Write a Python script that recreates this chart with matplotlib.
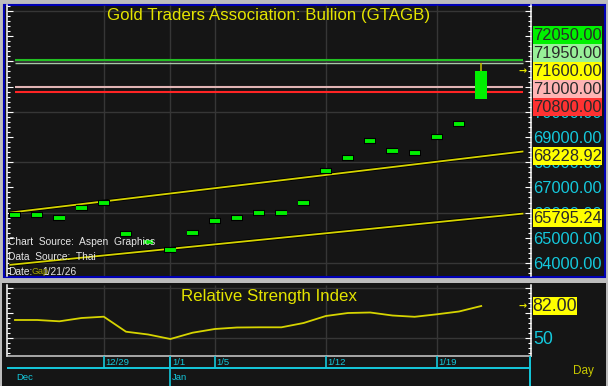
import numpy as np
import matplotlib
matplotlib.use('Agg')
import matplotlib.pyplot as plt
from matplotlib import ticker
from matplotlib.patches import Rectangle

# ---- data ----
dates = ['12/23', '12/24', '12/25', '12/26', '12/29', '12/30', '12/31', '1/1', '1/2', '1/5',
         '1/6', '1/7', '1/8', '1/9', '1/12', '1/13', '1/14', '1/15', '1/16', '1/19', '1/20', '1/21']
opens = [65900, 65900, 65800, 66200, 66400, 65150, 64850, 64500, 65200, 65650,
         65800, 66000, 66000, 66400, 67650, 68150, 68850, 68450, 68350, 69000, 69500, 70500]
closes = [65900, 65900, 65800, 66200, 66400, 65150, 64850, 64500, 65200, 65650,
          65800, 66000, 66000, 66400, 67650, 68150, 68850, 68450, 68350, 69000, 69500, 71600]
highs = [65900, 65900, 65800, 66200, 66400, 65150, 64850, 64500, 65200, 65650,
         65800, 66000, 66000, 66400, 67650, 68150, 68850, 68450, 68350, 69000, 69500, 71950]
rsi = [68, 68, 66.7, 70, 71.3, 56.3, 53.5, 49, 55.3, 59, 60.5, 60.7, 60.7, 65,
       72, 75, 75.5, 72.5, 71.2, 73.7, 76.5, 82]

tick_dates = ['12/29', '1/1', '1/5', '1/12', '1/19']
months = ['Dec', 'Jan']
month_start = ['12/23', '1/1']

# horizontal price levels and their colours
levels = [72050, 71950, 71000, 70800]
level_colors = ['#22c022', '#a8c8a8', '#e0b4b4', '#ff2424']
stack_labels = [72050, 71950, 71600, 71000, 70800]
stack_colors = ['#00f000', '#98f098', '#ffff00', '#ffb4b4', '#ff3232']
last_price = 71600

# channel lines: start / end points (bar index, price)
upper_x = [-0.25, 22.9]
upper_y = [65997, 68428]
lower_x = [-0.25, 22.9]
lower_y = [63925, 65962]
channel_labels = [68228.92, 65795.24]

BG = '#151515'
GRID = '#363636'
YEL = '#d6d400'
CYAN = '#14c8dc'
W, H = 608, 386
FONT = 'Liberation Sans'
LBL = 11.8

plt.rcParams['font.family'] = [FONT, 'DejaVu Sans']

fig = plt.figure(figsize=(W / 100, H / 100), dpi=100, facecolor='#bdbdbd')


def px_axes(x0, y0, x1, y1, z):
    a = fig.add_axes([x0 / W, 1 - y1 / H, (x1 - x0) / W, (y1 - y0) / H])
    a.set_zorder(z)
    return a


bg = px_axes(0, 0, W, H, 0)
bg.set_xlim(0, W)
bg.set_ylim(H, 0)
bg.axis('off')
bg.add_patch(Rectangle((4, 5), 601, 272, facecolor=BG, edgecolor='#0000b4', lw=1.5))
bg.add_patch(Rectangle((2, 283), 604, 103, facecolor=BG, edgecolor='none'))

xl = (-0.36, 23.22)
x = np.arange(len(dates))

# ---------------- price panel ----------------
ax = px_axes(7, 5, 530.5, 276, 1)
ax.set_facecolor('none')
ax.set_xlim(*xl)
ax.set_ylim(63484, 74238)
for s in ['top', 'bottom']:
    ax.spines[s].set_visible(False)
for s in ['left', 'right']:
    ax.spines[s].set_color('white')
    ax.spines[s].set_linewidth(1.1)
ax.yaxis.set_major_locator(ticker.MultipleLocator(1000))
ax.yaxis.set_minor_locator(ticker.MultipleLocator(200))
ax.yaxis.set_major_formatter(ticker.FuncFormatter(lambda v, p: f'{v:.2f}' if v <= 70000 else ''))
ax.tick_params(axis='y', which='both', direction='in', left=True, right=True,
               labelleft=False, labelright=True, color='white', width=0.8, pad=1.8,
               labelcolor=CYAN, labelsize=LBL)
ax.tick_params(axis='y', which='major', length=4.5)
ax.tick_params(axis='y', which='minor', length=2.2)
ax.set_xticks([])

tick_idx = [dates.index(d) for d in tick_dates]
ax.hlines(np.arange(64000, 74001, 2000), xl[0], xl[1], color=GRID, lw=1, zorder=0)
ax.vlines(tick_idx, 63484, 74238, color=GRID, lw=1, zorder=0)

# channel lines
for cx, cy in [(upper_x, upper_y), (lower_x, lower_y)]:
    ax.plot(cx, cy, color='black', lw=2.6, zorder=2, solid_capstyle='butt')
    ax.plot(cx, cy, color=YEL, lw=1.3, zorder=3, solid_capstyle='butt')

# level lines
for v, c in zip(levels, level_colors):
    ax.hlines(v, 0, 22.9, color=c, lw=1.5 if v != 71950 else 1.0, zorder=4)

# candles
w = 0.54
for i in x:
    o, c, h = opens[i], closes[i], highs[i]
    if o == c:
        ax.hlines(c, i - w / 2, i + w / 2, color='black', lw=4.4, zorder=5)
        ax.hlines(c, i - w / 2 + 0.04, i + w / 2 - 0.04, color='#00f000', lw=2.8, zorder=6)
    else:
        ax.vlines(i, max(o, c), h, color='#b8b800', lw=1.2, zorder=5)
        ax.bar(i, abs(c - o), bottom=min(o, c), width=w, color='#00f000',
               edgecolor='none', zorder=6)

ax.text(0.5, 0.962, 'Gold Traders Association: Bullion (GTAGB)', transform=ax.transAxes,
        ha='center', va='center', color='#e4e400', fontsize=12.2)
ax.text(0.984, last_price, '→', transform=ax.get_yaxis_transform(), ha='center', va='center',
        color='#e4e400', fontsize=7, fontfamily='DejaVu Sans', fontweight='bold')

# ---------------- RSI panel ----------------
ax2 = px_axes(7, 285, 530.5, 356, 1)
ax2.set_facecolor('none')
ax2.set_xlim(*xl)
ax2.set_ylim(32, 103)
ax2.spines['top'].set_visible(False)
for s in ['left', 'right', 'bottom']:
    ax2.spines[s].set_color('white')
    ax2.spines[s].set_linewidth(1.1)
ax2.spines['bottom'].set_color('#cfcfcf')
ax2.yaxis.set_major_locator(ticker.MultipleLocator(25))
ax2.yaxis.set_minor_locator(ticker.MultipleLocator(5))
ax2.yaxis.set_major_formatter(ticker.FuncFormatter(lambda v, p: '50' if v == 50 else ''))
ax2.tick_params(axis='y', which='both', direction='in', left=True, right=True,
                labelleft=False, labelright=True, color='white', width=0.8, pad=1.8,
                labelcolor=CYAN, labelsize=LBL + 1)
ax2.tick_params(axis='y', which='major', length=4.5)
ax2.tick_params(axis='y', which='minor', length=2.2)
ax2.set_xticks([])
ax2.hlines([50, 100], xl[0], xl[1], color=GRID, lw=1, zorder=0)
ax2.vlines(tick_idx, 32, 103, color=GRID, lw=1, zorder=0)
ax2.plot(x, rsi, color=YEL, lw=1.3, zorder=3)
ax2.text(0.5, 0.84, 'Relative Strength Index', transform=ax2.transAxes, ha='center',
         va='center', color='#e4e400', fontsize=12.2)
ax2.text(0.984, rsi[-1], '→', transform=ax2.get_yaxis_transform(), ha='center', va='center',
         color='#e4e400', fontsize=7, fontfamily='DejaVu Sans', fontweight='bold')

# ---------------- date strip ----------------
ax3 = px_axes(7, 356, 530.5, 386, 1)
ax3.set_xlim(*xl)
ax3.set_ylim(30, 0)
ax3.axis('off')
ax3.hlines(12, xl[0], xl[1], color=CYAN, lw=1.4)
ax3.vlines(tick_idx, 0, 12, color=CYAN, lw=1.2)
ax3.vlines(xl[1] - 0.01, 0, 30, color=CYAN, lw=1.4, clip_on=False)
for i, d in zip(tick_idx, tick_dates):
    ax3.text(i + 0.08, 6.5, d, color=CYAN, fontsize=6.8, ha='left', va='center')
for m, d in zip(months, month_start):
    i = dates.index(d)
    if d != dates[0]:
        ax3.vlines(i, 0, 30, color=CYAN, lw=1.2)
    ax3.text(i + 0.06, 21, m, color=CYAN, fontsize=6.8, va='center')

# ---------------- right-hand labels ----------------
top = px_axes(0, 0, W, H, 5)
top.set_xlim(0, W)
top.set_ylim(H, 0)
top.axis('off')


def py(a, v):
    return H - a.transData.transform((0, v))[1]


def label_box(cy, txt, fc, tc, w=69, size=LBL):
    top.add_patch(Rectangle((533, cy - 9), w, 18, facecolor=fc, edgecolor='none'))
    top.text(533 + w / 2, cy + 0.5, txt, ha='center', va='center', color=tc, fontsize=size)


base = py(ax, last_price)
for k, (v, c) in enumerate(zip(stack_labels, stack_colors)):
    label_box(base + (k - 2) * 18, f'{v:.2f}', c, '#2a2a2a')
for v in channel_labels:
    label_box(py(ax, v), f'{v:.2f}', '#ffff00', '#2a2a2a')
label_box(py(ax2, rsi[-1]), f'{rsi[-1]:.2f}', '#ffff00', '#2a2a2a', w=44, size=LBL + 1)
top.text(583, 371, 'Day', color='#c8c800', fontsize=8.5, ha='center', va='center')

# source notes
note = dict(color='#e6e6e6', fontsize=7.4, va='center', ha='left')
top.text(8, 242, 'Chart  Source:  Aspen  Graphics', **note)
top.text(8, 257, 'Data  Source:  Thai', **note)
top.text(8, 272, 'Date:', **note)
top.text(42, 272, '1/21/26', **note)
top.text(31, 272, 'Gap', color='#a8a800', fontsize=6.5, va='center', ha='left')

fig.savefig('out.png', dpi=100, facecolor=fig.get_facecolor())
